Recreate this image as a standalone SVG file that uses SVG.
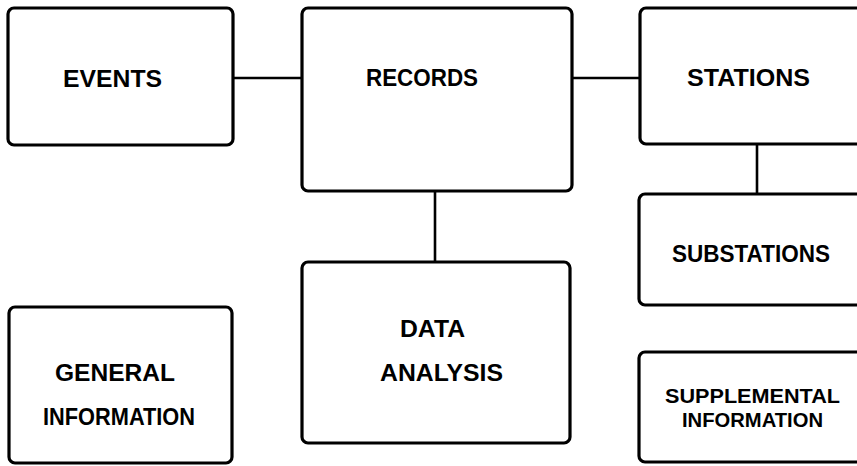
<svg xmlns="http://www.w3.org/2000/svg" width="857" height="466" viewBox="0 0 857 466">
<style>
.box{fill:#fff;stroke:#000;stroke-width:3.2}
.con{fill:none;stroke:#000;stroke-width:2.6}
text{font-family:"Liberation Sans",Arial,sans-serif;font-weight:bold;font-size:24px;fill:#000}
.sm{font-size:20px}
</style>
<rect width="857" height="466" fill="#fff"/>
<g id="connectors">
<path class="con" d="M233 78H302"/>
<path class="con" d="M572 78H640"/>
<path class="con" d="M435 191V262"/>
<path class="con" d="M757 144V194"/>
</g>
<g id="events">
<rect class="box" x="8" y="8" width="225" height="137" rx="6"/>
<text x="63" y="87" textLength="99" lengthAdjust="spacingAndGlyphs">EVENTS</text>
</g>
<g id="records">
<rect class="box" x="302" y="8" width="270" height="183" rx="6"/>
<text x="366" y="86" textLength="112" lengthAdjust="spacingAndGlyphs">RECORDS</text>
</g>
<g id="stations">
<rect class="box" x="640" y="8" width="240" height="136" rx="6"/>
<text x="687" y="86" textLength="123" lengthAdjust="spacingAndGlyphs">STATIONS</text>
</g>
<g id="substations">
<rect class="box" x="639" y="194" width="240" height="111" rx="6"/>
<text x="672" y="262" textLength="158" lengthAdjust="spacingAndGlyphs">SUBSTATIONS</text>
</g>
<g id="data-analysis">
<rect class="box" x="302" y="262" width="268" height="181" rx="6"/>
<text x="400" y="337" textLength="65" lengthAdjust="spacingAndGlyphs">DATA</text>
<text x="380" y="381" textLength="123" lengthAdjust="spacingAndGlyphs">ANALYSIS</text>
</g>
<g id="general-information">
<rect class="box" x="9" y="307" width="223" height="156" rx="6"/>
<text x="55" y="381" textLength="120" lengthAdjust="spacingAndGlyphs">GENERAL</text>
<text x="43" y="425" textLength="152" lengthAdjust="spacingAndGlyphs">INFORMATION</text>
</g>
<g id="supplemental-information">
<rect class="box" x="639" y="352" width="240" height="110" rx="6"/>
<text class="sm" x="665" y="403" textLength="175" lengthAdjust="spacingAndGlyphs">SUPPLEMENTAL</text>
<text class="sm" x="682" y="427" textLength="141" lengthAdjust="spacingAndGlyphs">INFORMATION</text>
</g>
</svg>
